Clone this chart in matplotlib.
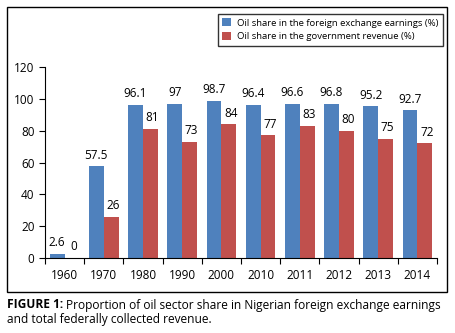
import matplotlib.pyplot as plt
import numpy as np
from matplotlib.patches import Rectangle

years = ["1960", "1970", "1980", "1990", "2000", "2010", "2011", "2012", "2013", "2014"]
forex_share = [2.6, 57.5, 96.1, 97, 98.7, 96.4, 96.6, 96.8, 95.2, 92.7]
revenue_share = [0, 26, 81, 73, 84, 77, 83, 80, 75, 72]
forex_labels = ["2.6", "57.5", "96.1", "97", "98.7", "96.4", "96.6", "96.8", "95.2", "92.7"]
revenue_labels = ["0", "26", "81", "73", "84", "77", "83", "80", "75", "72"]

plt.rcParams["font.family"] = ["Open Sans", "DejaVu Sans"]

BLUE = "#4F81BD"
RED = "#C0504D"

fig = plt.figure(figsize=(4.55, 3.33), dpi=100)
W, H = 455, 333

# outer frame
fig.patches.append(Rectangle((7 / W, 1 - 292 / H), 440 / W, 285 / H, transform=fig.transFigure,
                             fill=False, edgecolor="black", linewidth=1.0))

ax = fig.add_axes([45 / W, 1 - 258 / H, 392 / W, 191 / H])
x = np.arange(len(years))
w = 0.38
ax.bar(x - w / 2, forex_share, w, color=BLUE, label="Oil share in the foreign exchange earnings (%)")
ax.bar(x + w / 2, revenue_share, w, color=RED, label="Oil share in the government revenue (%)")

for i in range(len(years)):
    ax.text(x[i] - w / 2, forex_share[i] + 3, forex_labels[i], ha="center", va="bottom", fontsize=8.5)
    ax.text(x[i] + w / 2 + 0.05, revenue_share[i] + 3, revenue_labels[i], ha="center", va="bottom", fontsize=8.5)

ax.set_xlim(-0.5, len(years) - 0.5)
ax.set_ylim(0, 120)
ax.set_yticks(range(0, 121, 20))
ax.tick_params(axis="y", labelsize=8.5, direction="out", length=4, width=0.8)
ax.set_xticks(x)
ax.set_xticklabels(years, fontsize=8.5)
ax.tick_params(axis="x", length=0, pad=8)
ax.set_xticks(np.arange(-0.5, len(years), 1), minor=True)
ax.tick_params(axis="x", which="minor", direction="out", length=4, width=0.8)
for s in ["top", "right"]:
    ax.spines[s].set_visible(False)
ax.spines["left"].set_linewidth(0.8)
ax.spines["bottom"].set_linewidth(0.8)

leg = fig.legend(loc="upper left", bbox_to_anchor=(213 / W, 1 - 9 / H), fontsize=6.8,
                 frameon=True, fancybox=False, edgecolor="black", handlelength=0.9,
                 handleheight=0.9, handletextpad=0.6, borderpad=0.5, labelspacing=0.45)
leg.get_frame().set_linewidth(1.0)

t1 = fig.text(7 / W, 1 - 305 / H, "FIGURE 1:", fontsize=8.6, fontweight="bold", va="center")
fig.canvas.draw()
bb = t1.get_window_extent()
fig.text(bb.x1 / W + 0.006, 1 - 305 / H,
         "Proportion of oil sector share in Nigerian foreign exchange earnings",
         fontsize=8.6, va="center")
fig.text(7 / W, 1 - 320 / H, "and total federally collected revenue.", fontsize=8.6, va="center")

fig.savefig("out.png", dpi=100)
